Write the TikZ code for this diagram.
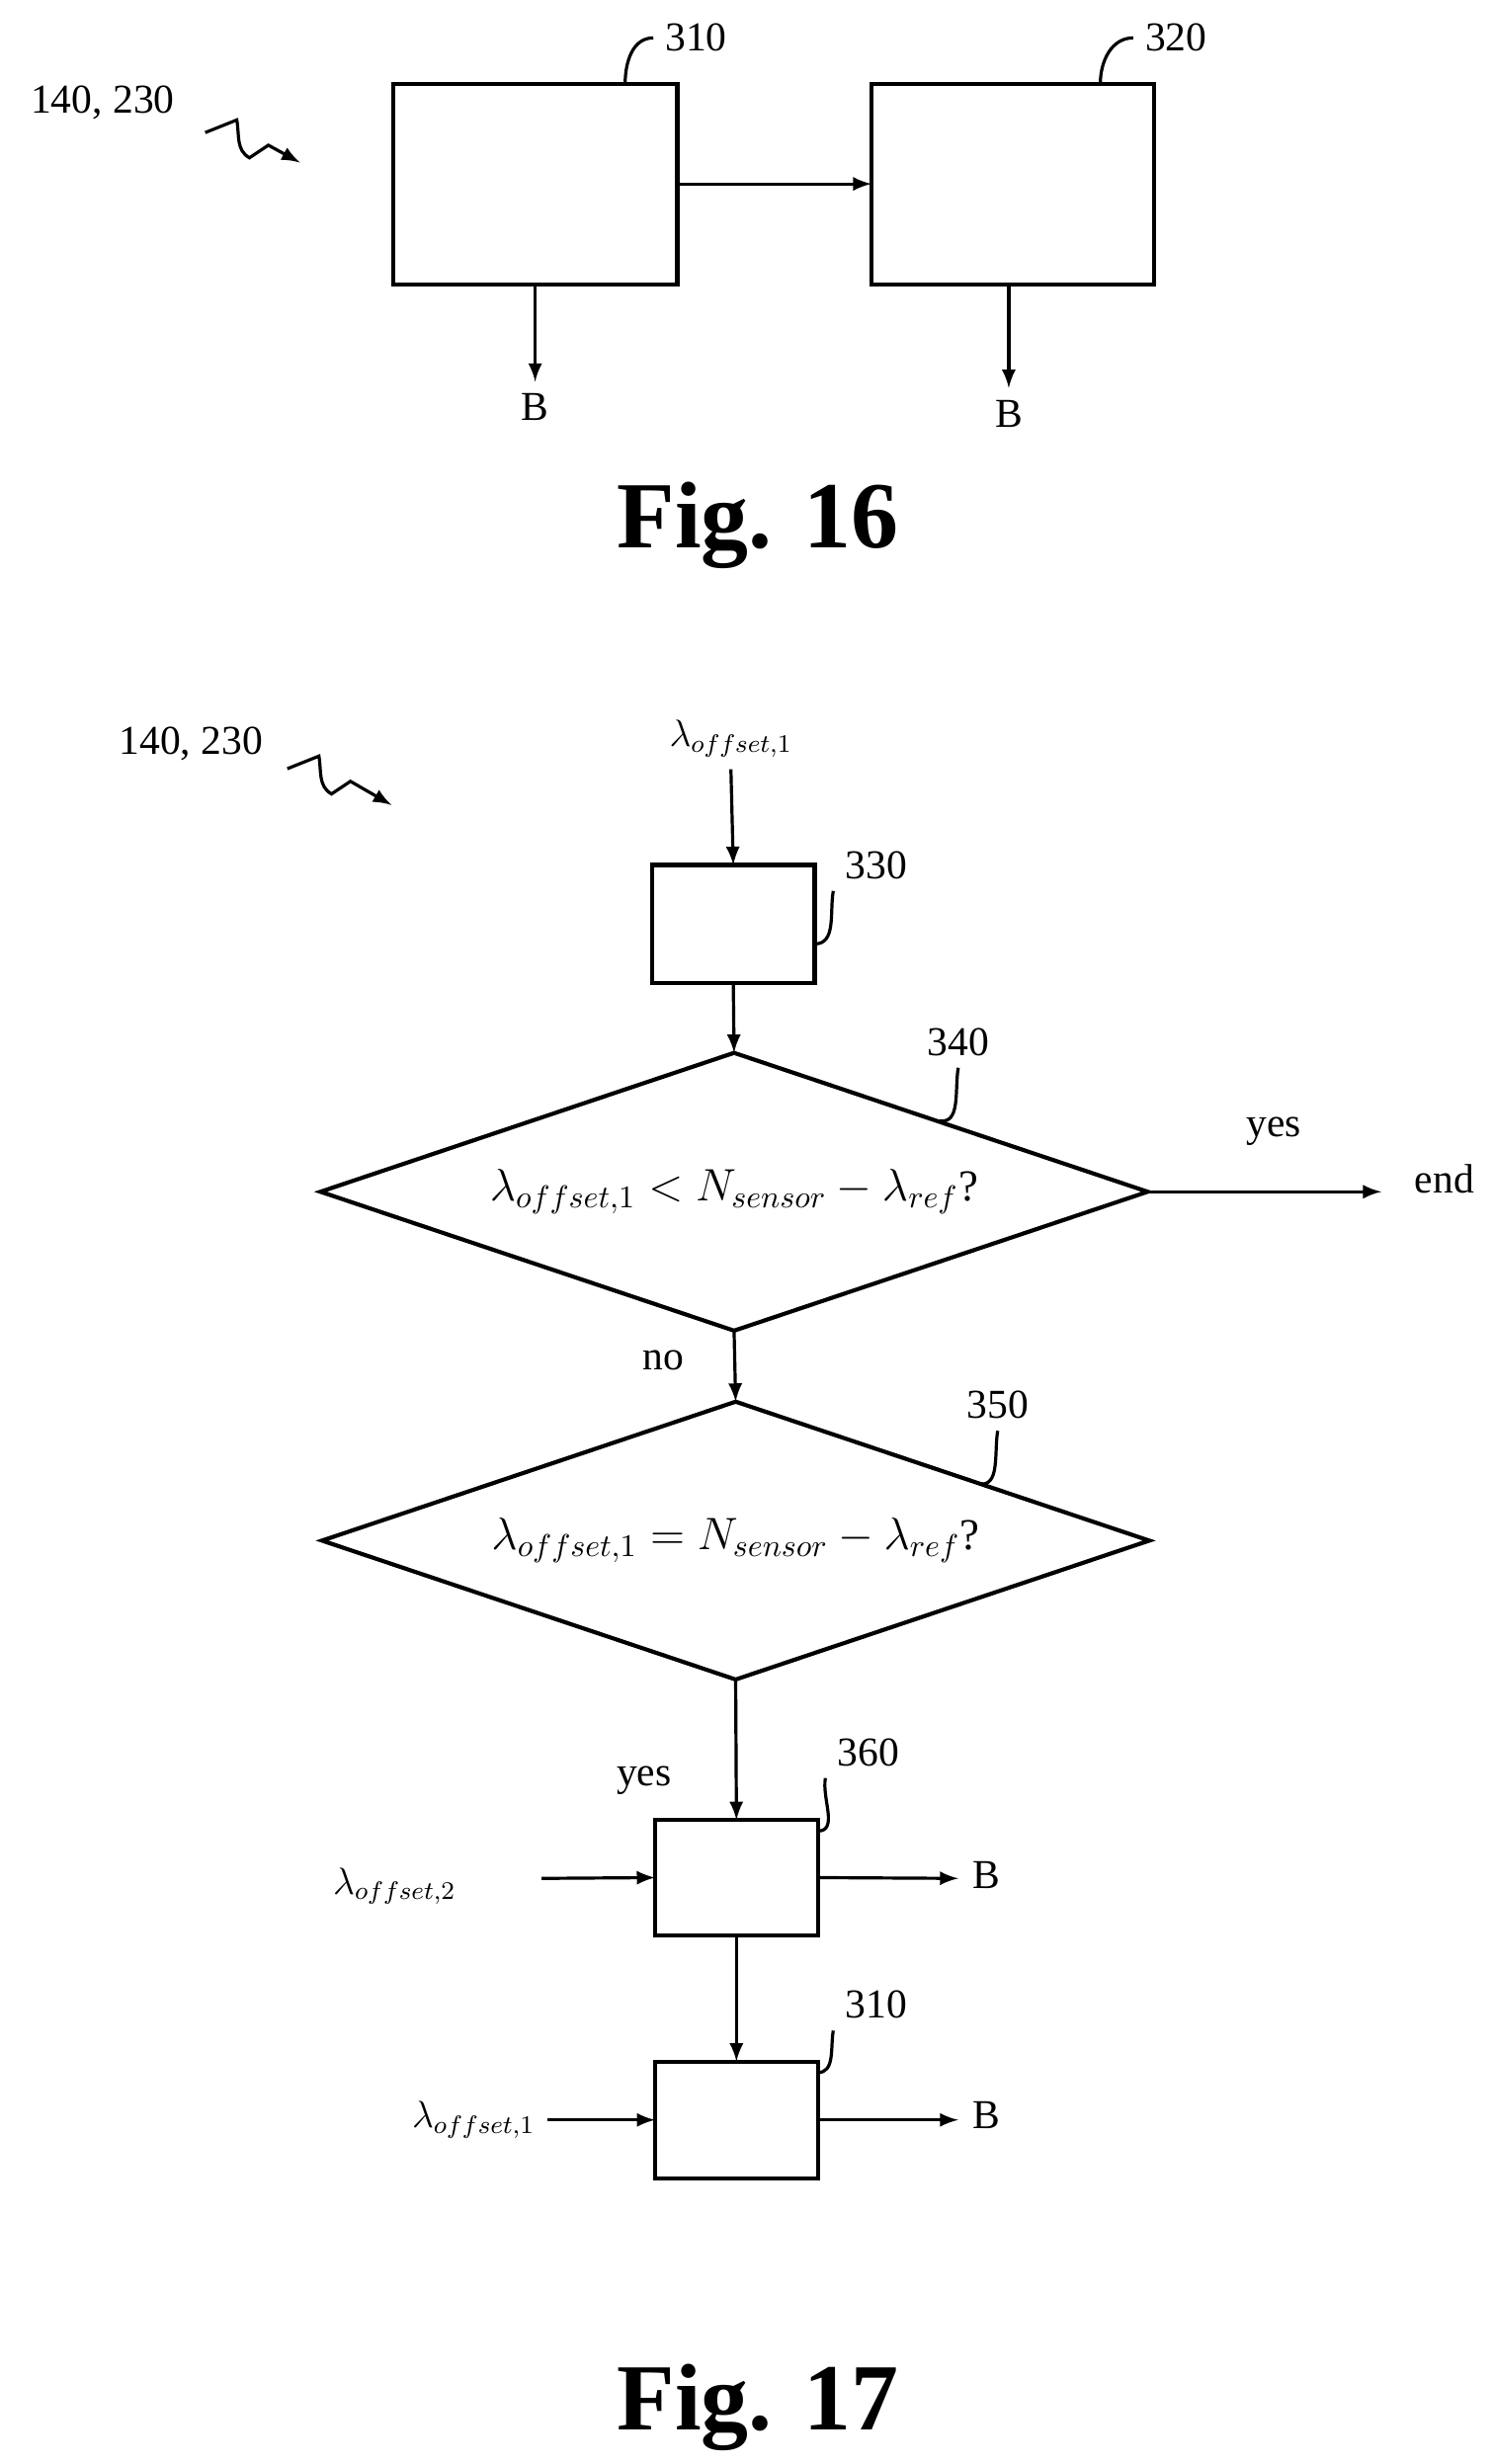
\documentclass[tikz,border=0pt]{standalone}
\usepackage{fontspec}
\setmainfont{Liberation Serif}
\usetikzlibrary{positioning}
\usetikzlibrary{arrows,shapes.geometric}

\begin{document}
\begin{tikzpicture}[>=latex,x=0.5pt,y=-0.5pt,line width=1pt,font=\fontsize{13}{15}\selectfont,
	blk/.style={draw,line width=1.3pt,minimum width=#1,outer sep=0pt,inner sep=0pt},
	dec/.style={draw,diamond,aspect=3,inner sep=0pt,minimum width=262pt,minimum height=88pt,outer sep=0pt,line width=1.3pt,font=\fontsize{14}{16}\selectfont},
	figcap/.style={font=\bfseries\fontsize{30}{34}\selectfont}]
	\useasboundingbox (0,0) rectangle (945,1561);

	% Fig. 16
	\node [blk=90pt,minimum height=63.5pt] at (339,116.5) (b310) {};
	\node [blk=89.5pt,minimum height=63.5pt] at (641.5,116.5) (b320) {};
	\node at (441,24) (l310) {310};
	\node at (745,24) (l320) {320};
	\node at (65,65) (ref16) {140, 230};
	\node at (339,258) (B1) {B};
	\node at (639,262) (B2) {B};
	\draw[->] (b310.east) -- (b320.west);
	\draw[->] (B1.north |- b310.south) -- (B1.north);
	\draw[->] (B2.north |- b320.south) -- (B2.north);
	\draw (396,53) to[out=90,in=180] (l310.west);
	\draw (697,53) to[out=90,in=180] (l320.west);
	\draw[->] (130,84) -- (150,76) to[out=-80,in=150] (158,100) -- (170,92) -- (190,103);
	\node [figcap] at (480,333) (fig16) {Fig. 16};

	% Fig. 17
	\node at (121,471) (ref17) {140, 230};
	\draw[->] (182,487) -- (202,479) to[out=-80,in=150] (210,503) -- (222,495) -- (248,510);
	\node at (463,468) (in1) {\large$\lambda_{offset,1}$};
	\node [blk=51.5pt,minimum height=37.5pt] at (464.5,585.5) (b330) {};
	\node at (555,548) (l330) {330};
	\node [dec] at (465,755) (d340) {$\lambda_{offset,1} < N_{sensor} - \lambda_{ref}$?};
	\node at (607,660) (l340) {340};
	\node at (915,747) (end) {end};
	\node at (807,717) {yes};
	\node at (420,862) {no};
	\node [dec] at (466,976) (d350) {$\lambda_{offset,1} = N_{sensor} - \lambda_{ref}$?};
	\node at (632,890) (l350) {350};
	\node at (408,1128) {yes};
	\node [blk=51.5pt,minimum height=36.5pt] at (466.5,1189.5) (b360) {};
	\node at (550,1110) (l360) {360};
	\node at (250,1195) (in2) {\large$\lambda_{offset,2}$};
	\node at (625,1188) (B3) {B};
	\node [blk=51.5pt,minimum height=37pt] at (466.5,1343) (b310b) {};
	\node at (555,1270) (l310b) {310};
	\node at (300,1343) (in3) {\large$\lambda_{offset,1}$};
	\node at (625,1340) (B4) {B};
	\node [figcap] at (480,1525) (fig17) {Fig. 17};

	\draw[->] (in1.south) -- (b330.north);
	\draw[->] (b330.south) -- (d340.north);
	\draw[->] (d340.east) -- (875,755) coordinate (e1);
	\draw[->] (d340.south) -- (d350.north);
	\draw[->] (d350.south) -- (b360.north);
	\draw[->] (343,1190) -- (b360.west);
	\draw[->] (b360.east) -- (607,1190) coordinate (e2);
	\draw[->] (b360.south) -- (b310b.north);
	\draw[->] (in3.east) -- (b310b.west);
	\draw[->] (b310b.east) -- (607,1343) coordinate (e3);
	\draw (516,598) to[out=0,in=-100] (l330.south west);
	\draw (595,710) to[out=-10,in=-100] (l340.south);
	\draw (620,940) to[out=-10,in=-100] (l350.south);
	\draw (518,1160) to[out=0,in=-100] (l360.south west);
	\draw (518,1313) to[out=0,in=-100] (l310b.south west);
\end{tikzpicture}
\end{document}
